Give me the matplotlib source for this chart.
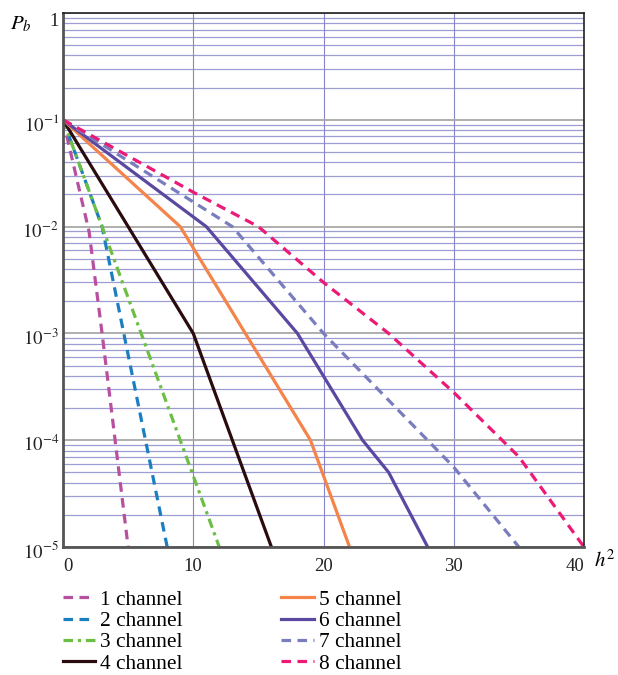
import numpy as np
import matplotlib
matplotlib.use("Agg")
import matplotlib.pyplot as plt
from matplotlib.ticker import FixedLocator, FuncFormatter, LogLocator
from matplotlib.transforms import ScaledTranslation

plt.rcParams['font.family'] = ['Liberation Serif', 'DejaVu Serif']
plt.rcParams['mathtext.fontset'] = 'stix'

# bit error probability vs h^2 for 1..8 channels
labels = ['1 channel', '2 channel', '3 channel', '4 channel',
          '5 channel', '6 channel', '7 channel', '8 channel']

x1 = [0, 1, 2, 3, 4, 5]
p1 = [0.1, 0.03, 0.009, 1e-3, 1e-4, 1e-5]

x2 = [0, 3, 8]
p2 = [0.1, 0.01, 1e-5]

x3 = [0, 3, 6, 9, 12]
p3 = [0.1, 0.01, 1e-3, 1e-4, 1e-5]

x4 = [0, 10, 16]
p4 = [0.1, 1e-3, 1e-5]

x5 = [0, 9, 19, 22]
p5 = [0.1, 0.01, 1e-4, 1e-5]

x6 = [0, 11, 18, 23, 25, 28]
p6 = [0.1, 0.01, 1e-3, 1e-4, 5e-5, 1e-5]

x7 = [0, 13, 20, 30, 35]
p7 = [0.1, 0.01, 1e-3, 5.6e-5, 1e-5]

x8 = [0, 10, 15, 20, 25, 30, 35, 40]
p8 = [0.1, 0.021, 0.01, 3e-3, 1e-3, 2.8e-4, 7e-5, 1e-5]

xs = [x1, x2, x3, x4, x5, x6, x7, x8]
ps = [p1, p2, p3, p4, p5, p6, p7, p8]

colors = ['#B8509F', '#1B7EC1', '#6DBE45', '#2A0B0E',
          '#F4844A', '#5B48A0', '#7A7DBD', '#EC1A77']
styles = [(0, (3, 2)), (0, (3, 2)), (0, (3, 1.5, 1, 1.5)), '-',
          '-', '-', (0, (3, 2)), (0, (3, 2))]

fig = plt.figure(figsize=(6.18, 6.75), dpi=100)
ax = fig.add_axes([63/618, 128/675, 521/618, 534/675])

for x, p, c, ls, lab in zip(xs, ps, colors, styles, labels):
    ax.plot(x, p, color=c, linestyle=ls, linewidth=2.3, label=lab)

ax.set_yscale('log')
ax.set_xlim(0, 40)
ax.set_ylim(1e-5, 1)

# grid: grey decades, bluish minor lines, vertical lines every 10
ax.yaxis.set_major_locator(LogLocator(base=10, numticks=10))
ax.yaxis.set_minor_locator(LogLocator(base=10, subs=np.arange(2, 10), numticks=20))
ax.xaxis.set_major_locator(FixedLocator([0, 10, 20, 30, 40]))
ax.grid(which='major', axis='y', color='#A8A8A8', linewidth=1.3)
ax.grid(which='minor', axis='y', color='#8585C8', linewidth=0.9, alpha=0.8)
ax.grid(which='major', axis='x', color='#8585C8', linewidth=0.8)
ax.set_axisbelow(True)


def yfmt(v, pos):
    e = int(round(np.log10(v)))
    if e == 0:
        return '1'
    return r'$10^{%d}$' % e


ax.yaxis.set_major_formatter(FuncFormatter(yfmt))
ax.tick_params(which='both', length=0, labelsize=13.5, colors='#222222')
ax.tick_params(axis='y', pad=3)
ax.tick_params(axis='x', pad=8)

# end labels of the x axis sit inside the frame
xlabs = ax.get_xticklabels()
xlabs[0].set_horizontalalignment('left')
xlabs[-1].set_horizontalalignment('right')

# y labels hang slightly below their grid lines
for lab, v in zip(ax.get_yticklabels(), ax.get_yticks()):
    dy = -6 if np.isclose(v, 1.0) else -3
    lab.set_transform(lab.get_transform() +
                      ScaledTranslation(0, dy / 100, fig.dpi_scale_trans))

for s in ['left', 'bottom']:
    ax.spines[s].set_color('#555555')
    ax.spines[s].set_linewidth(2.0)
for s in ['top', 'right']:
    ax.spines[s].set_color('#222222')
    ax.spines[s].set_linewidth(1.2)

fig.text(10/618, 1 - 24/675, r'$P_b$', fontsize=15, va='center', ha='left')
fig.text(594/618, 1 - 561/675, r'$h^2$', fontsize=15, va='center', ha='left')

fig.legend(loc='upper left', bbox_to_anchor=(63/618, 1 - 590/675), ncol=2,
           frameon=False, fontsize=15.4, handlelength=1.5, handletextpad=0.25,
           labelspacing=0.06, columnspacing=4.6, borderaxespad=0, borderpad=0)

fig.savefig('out.png', dpi=100)
